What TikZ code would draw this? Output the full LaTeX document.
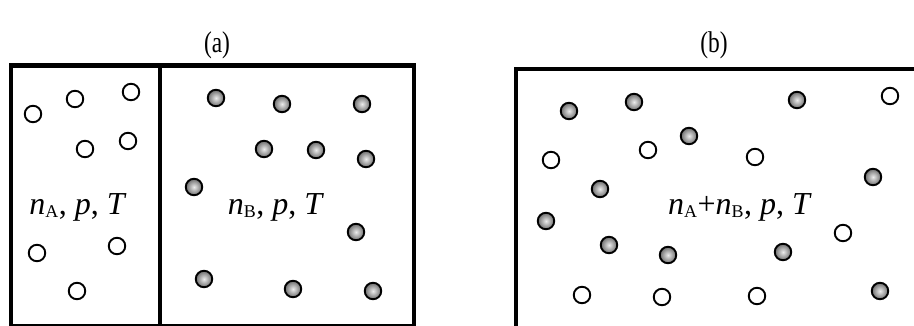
\documentclass[tikz,border=0pt]{standalone}
\usepackage{fontspec}
\setmainfont{Liberation Serif}
\begin{document}
\begin{tikzpicture}[x=1pt,y=-1pt,
  wall/.style={line width=4.5pt},
  wmol/.style={circle,draw=black,line width=1.9pt,fill=white,minimum size=16.5pt,inner sep=0pt},
  gmol/.style={circle,draw=black,line width=1.9pt,inner color=gray!15,outer color=gray!85!black,minimum size=16.5pt,inner sep=0pt},
  lab/.style={font=\fontsize{30}{32}\selectfont,xscale=0.78},
  stat/.style={font=\fontsize{32}{34}\selectfont}]
\useasboundingbox (0,0) rectangle (914,325);
% boxes
\draw[wall,line join=miter] (11,326) coordinate (abl) -- (11,65.5) coordinate (atl) -- (414,65.5) coordinate (atr) -- (414,326) coordinate (abr) -- cycle;
\draw[wall] (160,65.5) coordinate (dtop) -- (160,326) coordinate (dbot);
\draw[wall,line join=miter] (516,335) coordinate (bbl) -- (516,69) coordinate (btl) -- (930,69) coordinate (btr);
% labels
\node[lab] (la) at (217,45) {(a)};
\node[lab] (lb) at (714,45) {(b)};
% text
\node[stat] (ta) at (78,207) {\textit{n}\textsubscript{\scalebox{0.8}{A}}, \textit{p}, \textit{T}};
\node[stat] (tb) at (276,207) {\textit{n}\textsubscript{\scalebox{0.8}{B}}, \textit{p}, \textit{T}};
\node[stat] (tc) at (740,207) {\textit{n}\textsubscript{\scalebox{0.8}{A}}+\textit{n}\textsubscript{\scalebox{0.8}{B}}, \textit{p}, \textit{T}};
% white molecules in (a)
\foreach \x/\y [count=\i] in {33/114,75/99,131/92,85/149,128/141,37/253,117/246,77/291}
  \node[wmol] (aw\i) at (\x,\y) {};
% gray molecules in (a)
\foreach \x/\y [count=\i] in {216/98,282/104,362/104,264/149,316/150,366/159,194/187,356/232,204/279,293/289,373/291}
  \node[gmol] (ag\i) at (\x,\y) {};
% gray molecules in (b)
\foreach \x/\y [count=\i] in {569/111,634/102,797/100,689/136,600/189,873/177,546/221,609/245,668/255,783/252,880/291}
  \node[gmol] (bg\i) at (\x,\y) {};
% white molecules in (b)
\foreach \x/\y [count=\i] in {890/96,551/160,648/150,755/157,843/233,582/295,662/297,757/296}
  \node[wmol] (bw\i) at (\x,\y) {};
\end{tikzpicture}
\end{document}
